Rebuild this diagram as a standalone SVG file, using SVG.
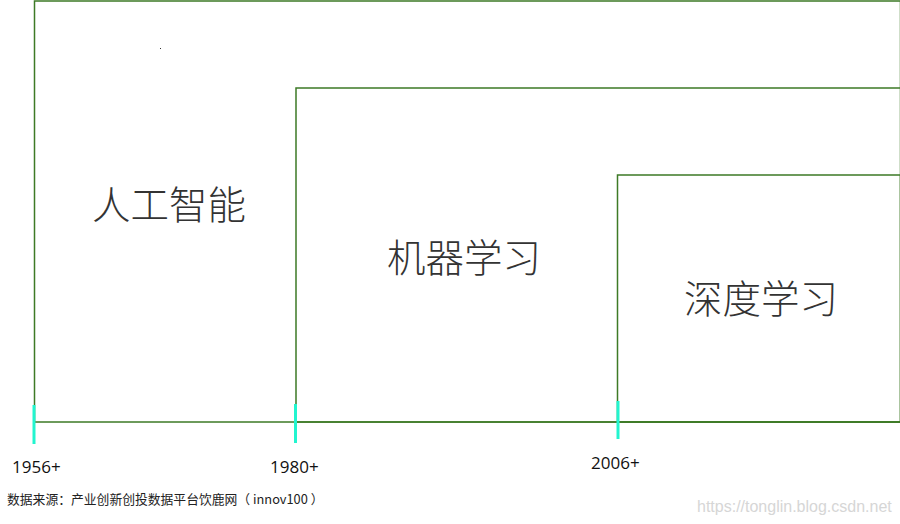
<svg xmlns="http://www.w3.org/2000/svg" width="900" height="524" viewBox="0 0 900 524">
<style>
.box{fill:none;stroke:#3d7a26;stroke-width:1.5}
.tick{stroke:#22f5cf;stroke-width:3}
.big{font-family:"Noto Sans CJK SC","Noto Sans",sans-serif;font-size:38.5px;font-weight:300;fill:#333}
.yr{font-family:"Open Sans","Noto Sans",sans-serif;font-size:17px;fill:#111}
.src{font-family:"Noto Sans CJK SC","Noto Sans",sans-serif;font-size:12.8px;fill:#222}
.wm{font-family:"Liberation Sans",Arial,sans-serif;font-size:16px;fill:#d6d6d6}
</style>
<rect width="900" height="524" fill="#fff"/>
<g id="ai">
<rect class="box" x="34.5" y="1" width="866" height="421"/>
<text class="big" x="92" y="219">人工智能</text>
<rect x="160" y="48" width="1" height="1" fill="#333"/>
</g>
<g id="ml">
<rect class="box" x="296" y="88" width="605" height="334"/>
<text class="big" x="387" y="272">机器学习</text>
</g>
<g id="dl">
<rect class="box" x="617.5" y="175" width="283" height="247"/>
<text class="big" x="684" y="313">深度学习</text>
</g>
<g id="connectors">
<line class="tick" x1="34" y1="405" x2="34" y2="444"/>
<line class="tick" x1="295.5" y1="404" x2="295.5" y2="443"/>
<line class="tick" x1="618" y1="401" x2="618" y2="439"/>
</g>
<g id="labels">
<text class="yr" x="12" y="473">1956+</text>
<text class="yr" x="270" y="473">1980+</text>
<text class="yr" x="591" y="469">2006+</text>
<text class="src" x="7" y="504">数据来源：产业创新创投数据平台饮鹿网（ innov100 ）</text>
<text class="wm" x="697" y="512">https://tonglin.blog.csdn.net</text>
</g>
</svg>
